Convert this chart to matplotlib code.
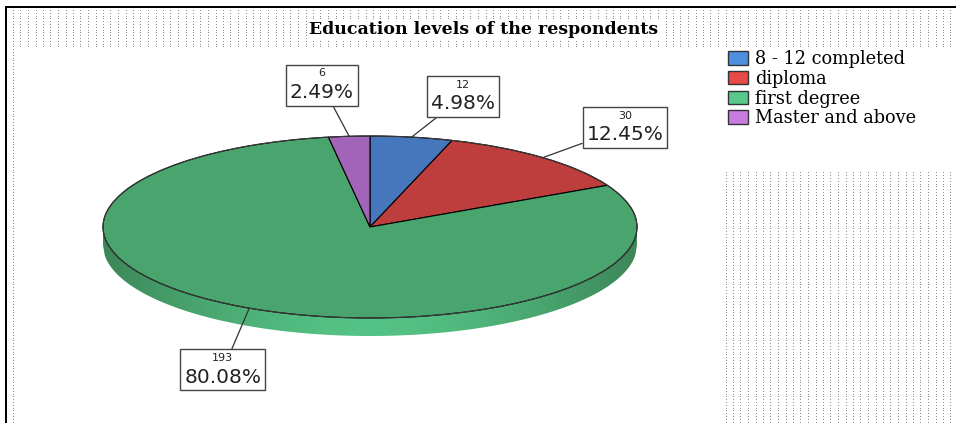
import numpy as np
import matplotlib
matplotlib.use("Agg")
import matplotlib.pyplot as plt
from matplotlib.patches import Patch, Polygon
from matplotlib.offsetbox import TextArea, VPacker, AnnotationBbox

# respondents by education level
levels = ["8 - 12 completed", "diploma", "first degree", "Master and above"]
counts = [12, 30, 193, 6]
pct_labels = ["4.98%", "12.45%", "80.08%", "2.49%"]

face_cols = ["#4676bb", "#be3d3d", "#4aa46d", "#a264b8"]
legend_cols = ["#4f8fe0", "#e84a4a", "#58c98a", "#c87ce0"]

W, H = 956, 423
fig = plt.figure(figsize=(W / 100, H / 100), dpi=100)

# ---- background panel: frame lines and dotted fill ----
bg = np.ones((H, W, 3))
rows = np.arange(10, H, 2.8).round().astype(int)
cols = np.arange(13, W, 7.5).round().astype(int)
dot = 0.55
for r in rows:
    for c in cols:
        top_strip = r <= 46
        left_col = c == 13
        right_box = c >= 726 and r >= 172
        if top_strip or left_col or right_box:
            bg[r, c] = dot
bg[6:8, 5:] = 0.0
bg[6:, 5:7] = 0.0
axbg = fig.add_axes([0, 0, 1, 1])
axbg.imshow(bg, interpolation="nearest", aspect="auto", extent=(0, W, H, 0))
axbg.set_xlim(0, W); axbg.set_ylim(H, 0); axbg.axis("off")

axbg.text(484, 30, "Education levels of the respondents", ha="center", va="center",
          fontsize=12.5, fontweight="bold", family="DejaVu Serif",
          bbox=dict(facecolor="white", edgecolor="none", pad=1.0))

# ---- pie axes: unit circle squashed to an ellipse ----
cx, cy, rx, ry = 370, 227, 267, 91
x0, x1, y0, y1 = 20, 720, 47, H
ax = fig.add_axes([x0 / W, 0, (x1 - x0) / W, (H - y0) / H])

# side wall of the disc, shaded lighter towards the front
depth = 18 / ry
xs = np.linspace(-1, 1, 300)
lower = -np.sqrt(np.clip(1 - xs ** 2, 0, 1))
wall = Polygon(np.column_stack([np.r_[xs, xs[::-1]], np.r_[lower, lower[::-1] - depth]]),
               closed=True, facecolor="none", edgecolor="none")
ax.add_patch(wall)
t = 1 - np.abs(xs) ** 1.6
dark = np.array([0x3c, 0x86, 0x57]) / 255
light = np.array([0x55, 0xc3, 0x85]) / 255
grad = (dark[None, :] * (1 - t[:, None]) + light[None, :] * t[:, None])[None, :, :]
img = ax.imshow(grad, extent=(-1, 1, -1 - depth, 0), aspect="auto",
                interpolation="bilinear", zorder=1)
img.set_clip_path(wall)

ax.pie(counts, startangle=90, counterclock=False, colors=face_cols,
       wedgeprops=dict(edgecolor="black", linewidth=0.8, zorder=2))
ang = np.linspace(0, 2 * np.pi, 400)
ax.plot(np.cos(ang), np.sin(ang), color="#3a3a3a", lw=0.8, zorder=3)

ax.set_aspect("auto")
ax.set_xlim((x0 - cx) / rx, (x1 - cx) / rx)
ax.set_ylim((cy - y1) / ry, (cy - y0) / ry)
ax.axis("off")

# ---- count / percent callouts ----
box_pos = [(0.348, 1.43), (0.955, 1.09), (-0.551, -1.571), (-0.18, 1.56)]
total = sum(counts)
start = 90.0
for n, p, (bx, by) in zip(counts, pct_labels, box_pos):
    sweep = 360.0 * n / total
    mid = np.deg2rad(start - sweep / 2)
    start -= sweep
    anchor = (np.cos(mid), np.sin(mid))
    content = VPacker(children=[
        TextArea(str(n), textprops=dict(fontsize=8, family="DejaVu Sans", color="#222222")),
        TextArea(p, textprops=dict(fontsize=14.5, family="DejaVu Sans", color="#222222"))],
        align="center", pad=0, sep=3)
    ab = AnnotationBbox(content, anchor, xybox=(bx, by), boxcoords="data",
                        frameon=True, pad=0.28, box_alignment=(0.5, 0.5),
                        bboxprops=dict(edgecolor="#444444", facecolor="white", lw=1.0),
                        arrowprops=dict(arrowstyle="-", color="#333333", lw=0.9,
                                        shrinkA=0, shrinkB=0))
    ab.set_zorder(5)
    ax.add_artist(ab)

handles = [Patch(facecolor=c, edgecolor="#333333", lw=1.0) for c in legend_cols]
fig.legend(handles, levels, loc="upper left", bbox_to_anchor=(728 / W, 1 - 50 / H),
           frameon=False, prop=dict(family="DejaVu Serif", size=12.8),
           handlelength=1.1, handleheight=0.8, handletextpad=0.4,
           labelspacing=0.1, borderpad=0, borderaxespad=0)

fig.savefig("out.png", dpi=100)
